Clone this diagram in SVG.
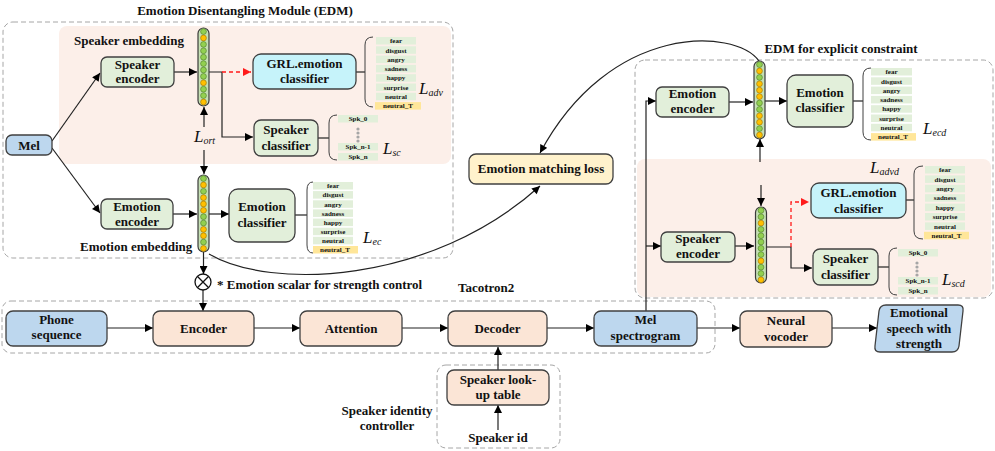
<svg xmlns="http://www.w3.org/2000/svg" width="995" height="451" viewBox="0 0 995 451">
<style>
text{font-family:"Liberation Serif","Times New Roman",serif;font-weight:bold;fill:#111;}
.t{font-size:13px;text-anchor:middle;}
.tl{font-size:13px;}
.lt{font-size:7px;text-anchor:middle;}
.L{font-family:"Liberation Serif","Times New Roman",serif;font-style:italic;font-weight:normal;font-size:17px;}
.dash{fill:none;stroke:#a6a6a6;stroke-width:1;stroke-dasharray:5,3;}
.pink{fill:#fcefe9;stroke:none;}
.box{stroke:#404040;stroke-width:1.3;}
.g{fill:#e2efda;}
.b{fill:#bdd7ee;}
.p{fill:#fbe5d6;}
.c{fill:#c6f3fa;}
.y{fill:#fff2cc;}
.ln{fill:none;stroke:#222;stroke-width:1.2;}
.red{fill:none;stroke:#ff1a1a;stroke-width:1.3;stroke-dasharray:4,3;}
.br{fill:none;stroke:#404040;stroke-width:1;}
.lg{fill:#e2efda;}
.ly{fill:#ffe699;}
.cap{fill:#c5e0b4;stroke:#3a3a3a;stroke-width:1.2;}
.cg{fill:#92d050;stroke:#4d7a2a;stroke-width:0.6;}
.co{fill:#ffc000;stroke:#a07000;stroke-width:0.6;}
.dot{fill:#a6a6a6;}
</style>
<defs>
<marker id="ah" viewBox="0 0 10 10" refX="10" refY="5" markerWidth="9" markerHeight="8" markerUnits="userSpaceOnUse" orient="auto"><path d="M0,0 L10,5 L0,10 z" fill="#000"/></marker>
<marker id="ahr" viewBox="0 0 10 10" refX="10" refY="5" markerWidth="9" markerHeight="8" markerUnits="userSpaceOnUse" orient="auto"><path d="M0,0 L10,5 L0,10 z" fill="#ff1a1a"/></marker>
</defs>

<!-- containers -->
<g id="containers">
<rect class="dash" x="3" y="22" width="450" height="236" rx="10"/>
<rect class="pink" x="59" y="26" width="392" height="138" rx="8"/>
<text class="t" x="245" y="15">Emotion Disentangling Module (EDM)</text>
<text class="tl" x="74" y="45">Speaker embedding</text>
<text class="tl" x="80" y="251">Emotion embedding</text>
<rect class="dash" x="635" y="60" width="358" height="238" rx="10"/>
<rect class="pink" x="637" y="159" width="354" height="138" rx="8"/>
<text class="t" x="841" y="53">EDM for explicit constraint</text>
<rect class="dash" x="2" y="301" width="713" height="52" rx="9"/>
<text class="tl" x="458" y="292">Tacotron2</text>
<rect class="dash" x="437" y="365" width="123" height="83" rx="9"/>
<text class="t" x="387" y="415">Speaker identity</text>
<text class="t" x="387" y="430">controller</text>
</g>

<!-- connectors -->
<g id="connectors">
<line class="ln" x1="52" y1="141" x2="100" y2="73" marker-end="url(#ah)"/>
<line class="ln" x1="52" y1="148" x2="100" y2="213" marker-end="url(#ah)"/>
<line class="ln" x1="174" y1="72" x2="197" y2="72" marker-end="url(#ah)"/>
<polyline class="ln" points="209,72 222,72 222,137 253,137" marker-end="url(#ah)"/>
<line class="red" x1="222" y1="72" x2="251" y2="72" marker-end="url(#ahr)"/>
<line class="ln" x1="356" y1="72" x2="365" y2="72"/>
<line class="ln" x1="318" y1="138" x2="329" y2="138"/>
<line class="ln" x1="204" y1="127" x2="204" y2="107" marker-end="url(#ah)"/>
<line class="ln" x1="204" y1="150" x2="204" y2="174" marker-end="url(#ah)"/>
<line class="ln" x1="173" y1="214" x2="197" y2="214" marker-end="url(#ah)"/>
<line class="ln" x1="209" y1="214" x2="229" y2="214" marker-end="url(#ah)"/>
<line class="ln" x1="295" y1="215" x2="307" y2="215"/>
<line class="ln" x1="203.5" y1="252" x2="203.5" y2="274" marker-end="url(#ah)"/>
<line class="ln" x1="203" y1="290" x2="203" y2="311" marker-end="url(#ah)"/>
<path class="ln" d="M209,254 C270,290 430,285 540,186" marker-end="url(#ah)"/>
<path class="ln" d="M759,61 C735,28 610,22 540,153" marker-end="url(#ah)"/>
<line class="ln" x1="107" y1="328" x2="153" y2="328" marker-end="url(#ah)"/>
<line class="ln" x1="254" y1="328" x2="300" y2="328" marker-end="url(#ah)"/>
<line class="ln" x1="402" y1="328" x2="448" y2="328" marker-end="url(#ah)"/>
<line class="ln" x1="547" y1="328" x2="594" y2="328" marker-end="url(#ah)"/>
<line class="ln" x1="697" y1="328" x2="740" y2="328" marker-end="url(#ah)"/>
<line class="ln" x1="832" y1="328" x2="877" y2="328" marker-end="url(#ah)"/>
<line class="ln" x1="498" y1="370" x2="498" y2="347" marker-end="url(#ah)"/>
<line class="ln" x1="498" y1="430" x2="498" y2="405" marker-end="url(#ah)"/>
<polyline class="ln" points="646,311 646,101 656,101" marker-end="url(#ah)"/>
<line class="ln" x1="646" y1="246" x2="661" y2="246" marker-end="url(#ah)"/>
<line class="ln" x1="729" y1="102" x2="753" y2="102" marker-end="url(#ah)"/>
<line class="ln" x1="765" y1="101" x2="787" y2="101" marker-end="url(#ah)"/>
<line class="ln" x1="853" y1="101" x2="863" y2="101"/>
<line class="ln" x1="760" y1="162" x2="760" y2="139" marker-end="url(#ah)"/>
<line class="ln" x1="761" y1="185" x2="761" y2="206" marker-end="url(#ah)"/>
<line class="ln" x1="735" y1="246" x2="754" y2="246" marker-end="url(#ah)"/>
<polyline class="ln" points="767,247 791,247 791,268 812,268" marker-end="url(#ah)"/>
<polyline class="red" points="791,247 791,202 809,202" marker-end="url(#ahr)"/>
<line class="ln" x1="906" y1="200" x2="914" y2="200"/>
<line class="ln" x1="878" y1="267" x2="889" y2="267"/>
</g>

<!-- Left EDM nodes -->
<g id="mel-in"><rect class="box b" x="6" y="135" width="46" height="20" rx="6"/><text class="t" x="29" y="149.5">Mel</text></g>
<g id="speaker-encoder"><rect class="box g" x="101" y="57" width="73" height="30" rx="6"/><text class="t" x="137.5" y="69">Speaker</text><text class="t" x="137.5" y="83">encoder</text></g>
<g id="emotion-encoder"><rect class="box g" x="101" y="199" width="72" height="30" rx="6"/><text class="t" x="137" y="211">Emotion</text><text class="t" x="137" y="226">encoder</text></g>
<g id="grl-classifier"><rect class="box c" x="253" y="54" width="103" height="35" rx="8"/><text class="t" x="304.5" y="68">GRL.emotion</text><text class="t" x="304.5" y="83">classifier</text></g>
<g id="speaker-classifier"><rect class="box g" x="254" y="120" width="64" height="36" rx="7"/><text class="t" x="286" y="134">Speaker</text><text class="t" x="286" y="150">classifier</text></g>
<g id="emotion-classifier"><rect class="box g" x="229" y="189" width="66" height="53" rx="9"/><text class="t" x="262" y="211">Emotion</text><text class="t" x="262" y="227">classifier</text></g>

<g id="speaker-embedding">
<rect class="cap" x="198" y="28" width="11" height="78" rx="5.5"/>
<circle class="cg" cx="203.5" cy="31.6" r="2.9"/><circle class="co" cx="203.5" cy="38" r="2.9"/><circle class="cg" cx="203.5" cy="44.4" r="2.9"/><circle class="cg" cx="203.5" cy="50.8" r="2.9"/><circle class="cg" cx="203.5" cy="57.2" r="2.9"/><circle class="cg" cx="203.5" cy="63.6" r="2.9"/><circle class="cg" cx="203.5" cy="70" r="2.9"/><circle class="cg" cx="203.5" cy="76.4" r="2.9"/><circle class="co" cx="203.5" cy="82.8" r="2.9"/><circle class="cg" cx="203.5" cy="89.2" r="2.9"/><circle class="cg" cx="203.5" cy="95.6" r="2.9"/><circle class="co" cx="203.5" cy="102" r="2.9"/>
</g>
<g id="emotion-embedding">
<rect class="cap" x="198" y="175" width="11" height="77" rx="5.5"/>
<circle class="cg" cx="203.5" cy="178.6" r="2.9"/><circle class="co" cx="203.5" cy="184.95" r="2.9"/><circle class="cg" cx="203.5" cy="191.3" r="2.9"/><circle class="co" cx="203.5" cy="197.65" r="2.9"/><circle class="co" cx="203.5" cy="204" r="2.9"/><circle class="co" cx="203.5" cy="210.35" r="2.9"/><circle class="cg" cx="203.5" cy="216.7" r="2.9"/><circle class="cg" cx="203.5" cy="223.05" r="2.9"/><circle class="co" cx="203.5" cy="229.4" r="2.9"/><circle class="co" cx="203.5" cy="235.75" r="2.9"/><circle class="cg" cx="203.5" cy="242.1" r="2.9"/><circle class="co" cx="203.5" cy="248.45" r="2.9"/>
</g>

<g id="loss-ort"><text class="L" x="194" y="142">L<tspan font-size="10" dy="2">ort</tspan></text></g>

<g id="grl-labels">
<path class="br" d="M373,37 Q365,37 365,45 L365,99 Q365,107 373,107"/>
<rect class="lg" x="376" y="37" width="40" height="7.5"/><text class="lt" x="396" y="43.2">fear</text>
<rect class="lg" x="376" y="46.3" width="40" height="7.5"/><text class="lt" x="396" y="52.5">disgust</text>
<rect class="lg" x="376" y="55.6" width="40" height="7.5"/><text class="lt" x="396" y="61.8">angry</text>
<rect class="lg" x="376" y="64.9" width="40" height="7.5"/><text class="lt" x="396" y="71.1">sadness</text>
<rect class="lg" x="376" y="74.2" width="40" height="7.5"/><text class="lt" x="396" y="80.4">happy</text>
<rect class="lg" x="376" y="83.5" width="40" height="7.5"/><text class="lt" x="396" y="89.7">surprise</text>
<rect class="lg" x="376" y="92.8" width="40" height="7.5"/><text class="lt" x="396" y="99">neutral</text>
<rect class="ly" x="375" y="102.1" width="46" height="7.5"/><text class="lt" x="398" y="108.3">neutral_T</text>
<text class="L" x="419" y="94">L<tspan font-size="10" dy="2">adv</tspan></text>
</g>
<g id="spk-labels">
<path class="br" d="M337,115 Q329,115 329,123 L329,152 Q329,160 337,160"/>
<rect class="lg" x="338" y="115" width="40" height="7.5"/><text class="lt" x="358" y="121.2">Spk_0</text>
<circle class="dot" cx="358" cy="129" r="1.6"/><circle class="dot" cx="358" cy="133" r="1.6"/><circle class="dot" cx="358" cy="137" r="1.6"/><circle class="dot" cx="358" cy="141" r="1.6"/>
<rect class="lg" x="338" y="143" width="40" height="7.5"/><text class="lt" x="358" y="149.2">Spk_n-1</text>
<rect class="lg" x="338" y="153" width="40" height="7.5"/><text class="lt" x="358" y="159.2">Spk_n</text>
<text class="L" x="383" y="154">L<tspan font-size="10" dy="2">sc</tspan></text>
</g>
<g id="emo-labels">
<path class="br" d="M313,182 Q307,182 307,190 L307,245 Q307,253 313,253"/>
<rect class="lg" x="313" y="182" width="40" height="7.5"/><text class="lt" x="333" y="188.2">fear</text>
<rect class="lg" x="313" y="191.1" width="40" height="7.5"/><text class="lt" x="333" y="197.3">disgust</text>
<rect class="lg" x="313" y="200.3" width="40" height="7.5"/><text class="lt" x="333" y="206.5">angry</text>
<rect class="lg" x="313" y="209.4" width="40" height="7.5"/><text class="lt" x="333" y="215.6">sadness</text>
<rect class="lg" x="313" y="218.6" width="40" height="7.5"/><text class="lt" x="333" y="224.8">happy</text>
<rect class="lg" x="313" y="227.7" width="40" height="7.5"/><text class="lt" x="333" y="233.9">surprise</text>
<rect class="lg" x="313" y="236.8" width="40" height="7.5"/><text class="lt" x="333" y="243">neutral</text>
<rect class="ly" x="313" y="246" width="45" height="7.5"/><text class="lt" x="335" y="252.2">neutral_T</text>
<text class="L" x="363" y="243">L<tspan font-size="10" dy="2">ec</tspan></text>
</g>

<g id="scalar">
<circle cx="203" cy="282" r="8" fill="#fff" stroke="#111" stroke-width="1.3"/>
<path d="M197.3,276.3 L208.7,287.7 M208.7,276.3 L197.3,287.7" stroke="#111" stroke-width="1.3"/>
<text class="tl" x="217" y="289">* Emotion scalar for strength control</text>
</g>

<g id="emotion-matching-loss"><rect class="box y" x="469" y="154" width="144" height="30" rx="7"/><text class="t" x="541" y="173">Emotion matching loss</text></g>

<!-- Right EDM -->
<g id="emotion-encoder-r"><rect class="box g" x="656" y="87" width="73" height="30" rx="6"/><text class="t" x="692.5" y="98">Emotion</text><text class="t" x="692.5" y="113">encoder</text></g>
<g id="emotion-classifier-r"><rect class="box g" x="787" y="75" width="66" height="52" rx="9"/><text class="t" x="820" y="97">Emotion</text><text class="t" x="820" y="112">classifier</text></g>
<g id="grl-classifier-r"><rect class="box c" x="811" y="183" width="95" height="35" rx="8"/><text class="t" x="858.5" y="197">GRL.emotion</text><text class="t" x="858.5" y="213">classifier</text></g>
<g id="speaker-encoder-r"><rect class="box g" x="661" y="232" width="74" height="30" rx="6"/><text class="t" x="698" y="243">Speaker</text><text class="t" x="698" y="258">encoder</text></g>
<g id="speaker-classifier-r"><rect class="box g" x="813" y="249" width="65" height="36" rx="7"/><text class="t" x="845.5" y="263">Speaker</text><text class="t" x="845.5" y="279">classifier</text></g>

<g id="emotion-embedding-r">
<rect class="cap" x="754" y="61" width="11" height="78" rx="5.5"/>
<circle class="cg" cx="759.5" cy="64.6" r="2.9"/><circle class="co" cx="759.5" cy="71" r="2.9"/><circle class="cg" cx="759.5" cy="77.4" r="2.9"/><circle class="co" cx="759.5" cy="83.8" r="2.9"/><circle class="co" cx="759.5" cy="90.2" r="2.9"/><circle class="co" cx="759.5" cy="96.6" r="2.9"/><circle class="cg" cx="759.5" cy="103" r="2.9"/><circle class="cg" cx="759.5" cy="109.4" r="2.9"/><circle class="co" cx="759.5" cy="115.8" r="2.9"/><circle class="co" cx="759.5" cy="122.2" r="2.9"/><circle class="cg" cx="759.5" cy="128.6" r="2.9"/><circle class="co" cx="759.5" cy="135" r="2.9"/>
</g>
<g id="speaker-embedding-r">
<rect class="cap" x="755.5" y="207" width="11" height="76" rx="5.5"/>
<circle class="cg" cx="761" cy="210.5" r="2.9"/><circle class="cg" cx="761" cy="216.8" r="2.9"/><circle class="co" cx="761" cy="223.1" r="2.9"/><circle class="cg" cx="761" cy="229.4" r="2.9"/><circle class="cg" cx="761" cy="235.7" r="2.9"/><circle class="cg" cx="761" cy="242" r="2.9"/><circle class="cg" cx="761" cy="248.3" r="2.9"/><circle class="cg" cx="761" cy="254.6" r="2.9"/><circle class="co" cx="761" cy="260.9" r="2.9"/><circle class="cg" cx="761" cy="267.2" r="2.9"/><circle class="cg" cx="761" cy="273.5" r="2.9"/><circle class="co" cx="761" cy="279.8" r="2.9"/>
</g>

<g id="emo-labels-r">
<path class="br" d="M871,68 Q863,68 863,76 L863,132 Q863,140 871,140"/>
<rect class="lg" x="871" y="68" width="41" height="7.5"/><text class="lt" x="891.5" y="74.2">fear</text>
<rect class="lg" x="871" y="77.3" width="41" height="7.5"/><text class="lt" x="891.5" y="83.5">disgust</text>
<rect class="lg" x="871" y="86.6" width="41" height="7.5"/><text class="lt" x="891.5" y="92.8">angry</text>
<rect class="lg" x="871" y="95.9" width="41" height="7.5"/><text class="lt" x="891.5" y="102.1">sadness</text>
<rect class="lg" x="871" y="105.2" width="41" height="7.5"/><text class="lt" x="891.5" y="111.4">happy</text>
<rect class="lg" x="871" y="114.5" width="41" height="7.5"/><text class="lt" x="891.5" y="120.7">surprise</text>
<rect class="lg" x="871" y="123.8" width="41" height="7.5"/><text class="lt" x="891.5" y="130">neutral</text>
<rect class="ly" x="871" y="133.1" width="45" height="7.5"/><text class="lt" x="893" y="139.3">neutral_T</text>
<text class="L" x="923" y="134">L<tspan font-size="10" dy="2">ecd</tspan></text>
</g>
<g id="grl-labels-r">
<path class="br" d="M923,166 Q914,166 914,174 L914,231 Q914,239 923,239"/>
<rect class="lg" x="925" y="166" width="40" height="7.5"/><text class="lt" x="945" y="172.2">fear</text>
<rect class="lg" x="925" y="175.4" width="40" height="7.5"/><text class="lt" x="945" y="181.6">disgust</text>
<rect class="lg" x="925" y="184.8" width="40" height="7.5"/><text class="lt" x="945" y="191">angry</text>
<rect class="lg" x="925" y="194.2" width="40" height="7.5"/><text class="lt" x="945" y="200.4">sadness</text>
<rect class="lg" x="925" y="203.6" width="40" height="7.5"/><text class="lt" x="945" y="209.8">happy</text>
<rect class="lg" x="925" y="213" width="40" height="7.5"/><text class="lt" x="945" y="219.2">surprise</text>
<rect class="lg" x="925" y="222.4" width="40" height="7.5"/><text class="lt" x="945" y="228.6">neutral</text>
<rect class="ly" x="924" y="231.8" width="45" height="7.5"/><text class="lt" x="946.5" y="238">neutral_T</text>
<text class="L" x="870" y="173">L<tspan font-size="10" dy="2">advd</tspan></text>
</g>
<g id="spk-labels-r">
<path class="br" d="M897,248 Q889,248 889,256 L889,287 Q889,295 897,295"/>
<rect class="lg" x="898" y="249" width="40" height="7.5"/><text class="lt" x="918" y="255.2">Spk_0</text>
<circle class="dot" cx="917" cy="263" r="1.6"/><circle class="dot" cx="917" cy="267" r="1.6"/><circle class="dot" cx="917" cy="271" r="1.6"/><circle class="dot" cx="917" cy="275" r="1.6"/>
<rect class="lg" x="898" y="277" width="40" height="7.5"/><text class="lt" x="918" y="283.2">Spk_n-1</text>
<rect class="lg" x="898" y="287" width="40" height="7.5"/><text class="lt" x="918" y="293.2">Spk_n</text>
<text class="L" x="942" y="285">L<tspan font-size="10" dy="2">scd</tspan></text>
</g>

<!-- Bottom row -->
<g id="phone-sequence"><rect class="box b" x="6" y="311" width="101" height="35" rx="7"/><text class="t" x="56.5" y="324">Phone</text><text class="t" x="56.5" y="339">sequence</text></g>
<g id="encoder"><rect class="box p" x="153" y="311" width="101" height="35" rx="7"/><text class="t" x="203.5" y="333">Encoder</text></g>
<g id="attention"><rect class="box p" x="300" y="311" width="102" height="35" rx="7"/><text class="t" x="351" y="333">Attention</text></g>
<g id="decoder"><rect class="box p" x="448" y="311" width="99" height="35" rx="7"/><text class="t" x="497.5" y="333">Decoder</text></g>
<g id="mel-spectrogram"><rect class="box b" x="594" y="311" width="103" height="35" rx="7"/><text class="t" x="645.5" y="324">Mel</text><text class="t" x="645.5" y="340">spectrogram</text></g>
<g id="neural-vocoder"><rect class="box p" x="740" y="311" width="92" height="36" rx="7"/><text class="t" x="786" y="325">Neural</text><text class="t" x="786" y="341">vocoder</text></g>
<g id="emotional-speech"><path class="box b" d="M886,305 L958,305 Q964,305 963,311 L959,346 Q958,352 952,352 L880,352 Q874,352 875,346 L879,311 Q880,305 886,305 Z"/><text class="t" x="919" y="317">Emotional</text><text class="t" x="919" y="333">speech with</text><text class="t" x="919" y="348">strength</text></g>
<g id="speaker-lookup"><rect class="box p" x="447" y="370" width="102" height="35" rx="7"/><text class="t" x="498" y="384">Speaker look-</text><text class="t" x="498" y="399">up table</text></g>
<g id="speaker-id"><text class="t" x="498" y="442">Speaker id</text></g>
</svg>
